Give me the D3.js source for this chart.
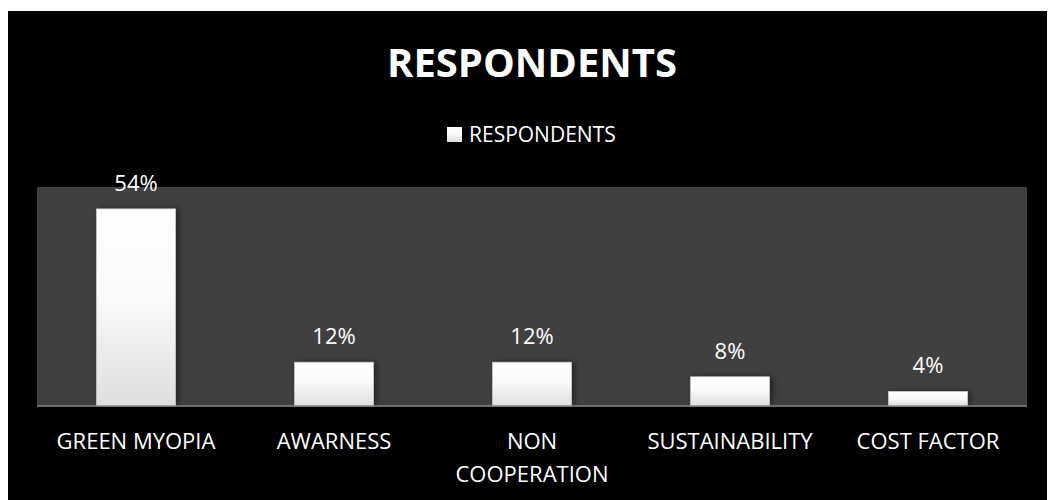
<!DOCTYPE html>
<html>
<head>
<meta charset="utf-8">
<script src="https://cdn.jsdelivr.net/npm/d3@7"></script>
<style>
  body { margin: 0; background: #fff; }
  svg { display: block; font-family: "Open Sans", sans-serif; }
</style>
</head>
<body>
<div id="chart"></div>
<script>
const categories = ["GREEN MYOPIA", "AWARNESS", "NON COOPERATION", "SUSTAINABILITY", "COST FACTOR"];
const values = [0.54, 0.12, 0.12, 0.08, 0.04];
const seriesName = "RESPONDENTS";
const chartTitle = "RESPONDENTS";

const W = 1048, H = 500;
const svg = d3.select("#chart").append("svg")
    .attr("width", W)
    .attr("height", H);

const defs = svg.append("defs");
const grad = defs.append("linearGradient")
    .attr("id", "barGrad")
    .attr("x1", 0).attr("y1", 0).attr("x2", 0).attr("y2", 1);
grad.append("stop").attr("offset", "0%").attr("stop-color", "#ffffff");
grad.append("stop").attr("offset", "45%").attr("stop-color", "#fafafa");
grad.append("stop").attr("offset", "100%").attr("stop-color", "#dedede");

const shadow = defs.append("filter").attr("id", "shadow")
    .attr("x", "-20%").attr("y", "-20%").attr("width", "150%").attr("height", "140%");
shadow.append("feDropShadow")
    .attr("dx", 3).attr("dy", 0).attr("stdDeviation", 3)
    .attr("flood-color", "#000").attr("flood-opacity", 0.45);

// black chart background
svg.append("rect")
    .attr("x", 8).attr("y", 11)
    .attr("width", 1039).attr("height", 489)
    .attr("fill", "#000");

const plot = {left: 37, right: 1027, top: 187, bottom: 406};

svg.append("rect")
    .attr("x", plot.left).attr("y", plot.top)
    .attr("width", plot.right - plot.left)
    .attr("height", plot.bottom - plot.top)
    .attr("fill", "#404040");

let x = d3.scaleBand()
    .domain(categories)
    .range([plot.left, plot.right])
    .paddingInner(0)
    .paddingOuter(0);

let y = d3.scaleLinear()
    .domain([0, 0.6])
    .range([plot.bottom, plot.top]);

const barW = x.bandwidth() * 0.4;

svg.selectAll(".bar")
    .data(categories)
    .enter().append("rect")
    .attr("class", "bar")
    .attr("x", d => x(d) + (x.bandwidth() - barW) / 2)
    .attr("y", (d, i) => y(values[i]))
    .attr("width", barW)
    .attr("height", (d, i) => y(0) - y(values[i]))
    .attr("fill", "url(#barGrad)")
    .attr("stroke", "#c8c8c8")
    .attr("stroke-width", 0.6)
    .attr("filter", "url(#shadow)");

// x axis line
svg.append("line")
    .attr("x1", plot.left).attr("x2", plot.right)
    .attr("y1", y(0)).attr("y2", y(0))
    .attr("stroke", "#868686")
    .attr("stroke-width", 1.5);

// value labels
const fmt = d3.format(".0%");
svg.selectAll(".val")
    .data(categories)
    .enter().append("text")
    .attr("class", "val")
    .attr("x", d => x(d) + x.bandwidth() / 2)
    .attr("y", (d, i) => y(values[i]) - 18)
    .attr("text-anchor", "middle")
    .attr("fill", "#fff")
    .attr("font-size", 22)
    .text((d, i) => fmt(values[i]));

// category labels (wrap long ones)
svg.selectAll(".cat")
    .data(categories)
    .enter().append("text")
    .attr("class", "cat")
    .attr("text-anchor", "middle")
    .attr("fill", "#fff")
    .attr("font-size", 22)
    .each(function(d) {
        const t = d3.select(this);
        const cx = x(d) + x.bandwidth() / 2;
        const lines = d === "NON COOPERATION" ? ["NON", "COOPERATION"] : [d];
        lines.forEach((ln, k) => {
            t.append("tspan")
                .attr("x", cx)
                .attr("y", 449 + k * 33)
                .text(ln);
        });
    });

// title
svg.append("text")
    .attr("x", 532).attr("y", 77)
    .attr("text-anchor", "middle")
    .attr("fill", "#fff")
    .attr("font-size", 40)
    .attr("font-weight", "bold")
    .text(chartTitle);

// legend
const legend = svg.append("g");
legend.append("rect")
    .attr("x", 447).attr("y", 127)
    .attr("width", 15).attr("height", 15)
    .attr("fill", "url(#barGrad)");
legend.append("text")
    .attr("x", 469).attr("y", 142)
    .attr("fill", "#fff")
    .attr("font-size", 21)
    .text(seriesName);
</script>
</body>
</html>
